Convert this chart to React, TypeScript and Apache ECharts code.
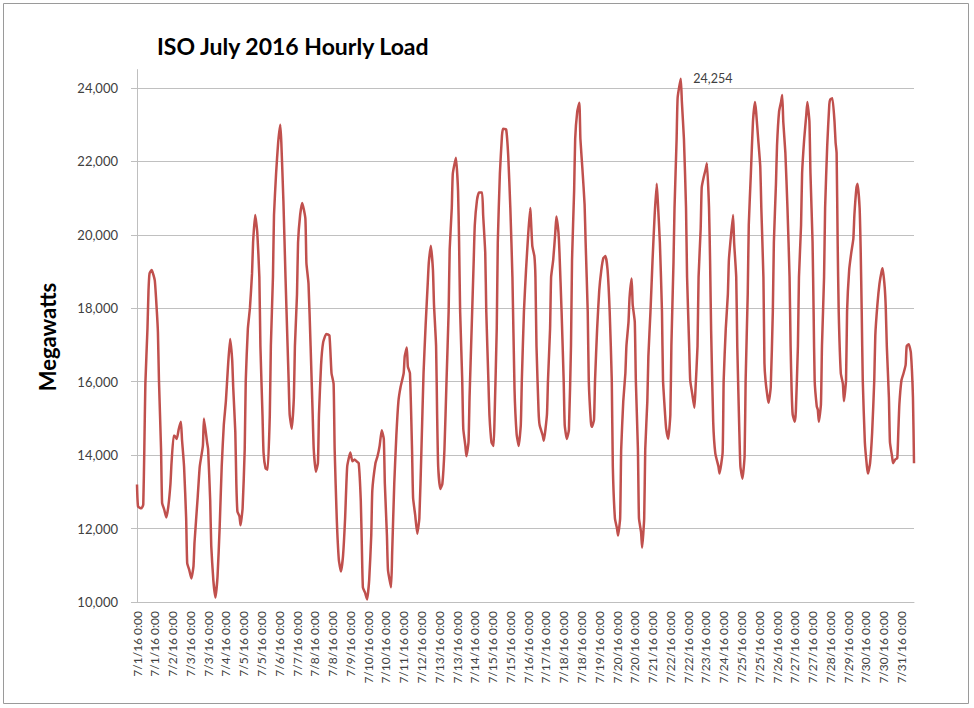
import React, { useEffect, useRef } from "react";
import * as echarts from "echarts";

// Hour index (0 = 7/1/16 0:00) and load in megawatts
const HOURS = [
  0, 1, 4, 5, 6, 7, 8, 10, 11, 12, 14, 17, 19, 20, 21, 23,
  24, 26, 28, 30, 32, 33, 35, 36, 38, 40, 42, 43, 45, 47,
  48, 50, 52, 54, 55, 58, 60, 63, 64, 67, 68, 70, 71,
  73, 75, 77, 79, 81, 83, 85, 87, 89, 91, 92, 94, 95,
  96, 98, 99, 101, 103, 104, 106, 108, 110, 111, 113, 115, 117, 118, 120, 121, 123,
  125, 127, 128, 130, 131, 133, 135, 137, 138, 140, 142, 144, 145, 146,
  148, 150, 151, 153, 154, 156, 158, 161, 162, 164, 166, 168, 169, 171,
  173, 174, 176, 178, 181, 184, 186, 188, 189, 191, 193,
  195, 197, 199, 201, 204, 206, 208, 210, 212, 214, 215, 216, 218,
  220, 222, 224, 225, 228, 230, 232, 234, 236, 237, 239, 240,
  243, 244, 246, 248, 250, 252, 255, 256, 258, 259, 261, 263, 264,
  266, 268, 270, 272, 274, 276, 278, 279, 281, 283, 284, 286, 287, 288,
  290, 292, 294, 296, 298, 299, 301, 302, 305, 307, 308, 309, 311, 312,
  314, 315, 317, 318, 320, 322, 323, 325, 327, 330, 331, 333, 334, 336, 337,
  339, 341, 342, 344, 345, 347, 349, 350, 353, 355, 357, 359, 361, 363,
  365, 367, 368, 370, 372, 374, 376, 378, 380, 381, 382, 384, 385, 388,
  389, 392, 393, 395, 396, 398, 400, 401, 403, 404, 406, 408, 409, 411,
  413, 415, 416, 418, 419, 421, 423, 424, 426, 428, 429, 431, 432, 434,
  435, 437, 438, 440, 442, 444, 446, 448, 450, 452, 454, 455, 457, 459,
  460, 462, 463, 465, 467, 468, 470, 471, 473, 474, 476, 477, 479, 480, 482,
  483, 485, 486, 488, 489, 491, 493, 495, 497, 498, 500, 502, 503, 505,
  506, 508, 510, 511, 513, 514, 516, 517, 520, 521, 523, 525, 526, 528, 529,
  531, 533, 534, 536, 537, 539, 540, 542, 544, 545, 547, 548, 549, 551, 553,
  556, 557, 560, 561, 563, 565, 566, 568, 570, 571, 573, 574, 576, 577,
  579, 581, 582, 584, 585, 587, 589, 591, 592, 594, 596, 597, 599, 600, 601,
  603, 604, 606, 608, 609, 611, 612, 614, 616, 617, 618, 620, 622, 624, 625,
  626, 627, 629, 630, 632, 633, 635, 636, 638, 640, 641, 643, 644, 646, 647, 648,
  650, 651, 652, 654, 655, 657, 658, 660, 662, 663, 665, 667, 668, 669, 670, 671,
  673, 675, 676, 678, 679, 681, 683, 685, 686, 688, 689, 691, 692, 693, 694,
  696, 698, 699, 701, 703, 705, 706, 708, 710, 712, 713, 715, 716, 717, 719,
  720, 722, 723, 725, 727, 728, 729, 731, 733, 735, 736, 738, 740, 742, 743,
];

const LOAD = [
  13200, 12600, 12550, 12580, 12660, 14160, 15940, 17440, 18480, 18950, 19040, 18760, 17900, 17350, 16040, 14160,
  12700, 12520, 12300, 12610, 13220, 13780, 14530, 14530, 14440, 14720, 14910, 14440, 13690, 12280,
  11060, 10870, 10640, 10970, 11620, 12840, 13690, 14250, 15000, 14350, 14160, 12750, 11530,
  10590, 10120, 10690, 12000, 13690, 14820, 15470, 16410, 17160, 16600, 15850, 14630, 13220,
  12470, 12330, 12090, 12560, 14160, 16040, 17440, 18010, 18950, 19790, 20540, 20070, 18850, 16970, 15100, 14070, 13640,
  13600, 15100, 16970, 18850, 20540, 21670, 22520, 23000, 22520, 20920, 18850, 16970, 16040, 15100,
  14720, 15570, 16970, 18380, 19790, 20540, 20870, 20450, 19230, 18670, 16970, 15100, 14160, 13550,
  13780, 15100, 16450, 17070, 17300, 17260, 16230, 15940, 14160, 12280, 11150,
  10830, 11250, 12280, 13690, 14070, 13830, 13880, 13830, 13780, 12750, 11530, 10400, 10260,
  10070, 10590, 11810, 13030, 13780, 13970, 14250, 14680, 14440, 13220, 11810, 10870,
  10400, 11340, 13220, 14530, 15470, 15850, 16230, 16690, 16930, 16410, 16230, 14160, 12840,
  12370, 11860, 12280, 14160, 16230, 17540, 18670, 19230, 19700, 19040, 18100, 16970, 15100, 13690,
  13080, 13220, 14160, 16040, 17910, 19600, 20730, 21670, 22100, 21200, 19790, 17910, 16040, 14720,
  14250, 13970, 14350, 15570, 17440, 19320, 20260, 20920, 21150, 21150, 20540, 19510, 17910, 16040, 15100,
  14350, 14250, 15100, 17440, 19790, 21670, 22700, 22890, 22870, 22140, 20730, 18850, 15800, 14580,
  14250, 14820, 16040, 17910, 19040, 19980, 20730, 19700, 19420, 18850, 16970, 15190, 14820, 14530,
  14390, 15100, 16040, 17440, 18850, 19320, 20070, 20500, 20070, 19510, 17910, 16040, 14820, 14440,
  14680, 16970, 19320, 21200, 22610, 23360, 23600, 22610, 21760, 20830, 19790, 17910, 16040, 14910,
  14770, 14960, 16040, 17440, 18480, 19040, 19370, 19420, 19040, 17910, 16040, 13690, 12280, 12000,
  11810, 12280, 14160, 15470, 16230, 16970, 17630, 18290, 18810, 18100, 17630, 16040, 14160, 12280, 11900,
  11480, 12280, 14160, 15470, 16690, 17910, 19320, 20540, 21390, 20920, 19790, 17910, 16040, 15100,
  14720, 14440, 15100, 16970, 19230, 20730, 22610, 23740, 24254, 23640, 22610, 20730, 18850, 16970, 16040,
  15660, 15290, 15760, 16970, 18850, 20160, 21290, 21580, 21810, 21950, 20730, 19300, 17400, 14900, 14050,
  13690, 13500, 14070, 16040, 17440, 18380, 19320, 19980, 20540, 19790, 18850, 16970, 14630, 13690,
  13360, 13970, 16040, 18380, 20260, 21670, 23080, 23620, 23360, 22610, 21860, 20730, 18850, 16500, 16040,
  15570, 15430, 15850, 17910, 19790, 21390, 22420, 23360, 23640, 23810, 23080, 22230, 20730, 18850, 16970,
  15750, 15100, 14910, 15190, 16970, 18850, 20260, 21670, 22610, 23270, 23620, 23080, 21670, 19790, 17910, 16040,
  15330, 15240, 14910, 15380, 16970, 18850, 20730, 22420, 23550, 23690, 23720, 23080, 22520, 22230, 19790, 17910,
  16230, 15940, 15470, 16040, 17910, 19040, 19510, 19890, 20540, 21290, 21390, 20730, 19600, 17910, 16040,
  14350, 13690, 13500, 13780, 14630, 16040, 17260, 18100, 18670, 19000, 19090, 18570, 18010, 16970, 15570,
  14350, 13970, 13780, 13880, 13920, 14630, 15380, 16040, 16230, 16460, 16970, 17020, 16790, 15570, 13780,
];

// Category-axis labels, one every 17 hours, as printed in the reference
const X_TICK_LABELS = [
  "7/1/16 0:00", "7/1/16 0:00", "7/2/16 0:00", "7/3/16 0:00", "7/3/16 0:00", "7/4/16 0:00",
  "7/5/16 0:00", "7/5/16 0:00", "7/6/16 0:00", "7/7/16 0:00", "7/8/16 0:00", "7/8/16 0:00",
  "7/9/16 0:00", "7/10/16 0:00", "7/10/16 0:00", "7/11/16 0:00", "7/12/16 0:00", "7/13/16 0:00",
  "7/13/16 0:00", "7/14/16 0:00", "7/15/16 0:00", "7/15/16 0:00", "7/16/16 0:00", "7/17/16 0:00",
  "7/18/16 0:00", "7/18/16 0:00", "7/19/16 0:00", "7/20/16 0:00", "7/20/16 0:00", "7/21/16 0:00",
  "7/22/16 0:00", "7/22/16 0:00", "7/23/16 0:00", "7/24/16 0:00", "7/25/16 0:00", "7/25/16 0:00",
  "7/26/16 0:00", "7/27/16 0:00", "7/27/16 0:00", "7/28/16 0:00", "7/29/16 0:00", "7/30/16 0:00",
  "7/30/16 0:00", "7/31/16 0:00",
];
const X_LABEL_STEP = 17;
const Y_MIN = 10000;
const Y_MAX = 24500;
const Y_STEP = 2000;

const TITLE = "ISO July 2016 Hourly Load";
const Y_NAME = "Megawatts";

export default function App() {
  const ref = useRef<HTMLDivElement>(null);

  useEffect(() => {
    if (!ref.current) return;
    const chart = echarts.init(ref.current, undefined, { renderer: "svg" });

    let peakIdx = 0;
    LOAD.forEach((v, i) => {
      if (v > LOAD[peakIdx]) peakIdx = i;
    });

    const fmt = (v: number) => Number(v).toLocaleString("en-US");

    chart.setOption({
      animation: false,
      backgroundColor: "#ffffff",
      title: {
        text: TITLE,
        left: 157,
        top: 34,
        padding: 0,
        textStyle: {
          fontFamily: "Lato",
          fontWeight: "bold",
          fontSize: 23,
          color: "#000000",
        },
      },
      grid: { left: 137, right: 60, top: 69.6, bottom: 106, containLabel: false },
      xAxis: {
        type: "value",
        min: 0,
        max: HOURS[HOURS.length - 1],
        interval: X_LABEL_STEP,
        axisLine: { show: true, lineStyle: { color: "#bfbfbf", width: 1 } },
        axisTick: { show: false },
        splitLine: { show: false },
        axisLabel: {
          rotate: 90,
          margin: 9,
          fontFamily: "Lato",
          fontSize: 12,
          color: "#404040",
          showMinLabel: true,
          showMaxLabel: false,
          formatter: (v: number) => {
            const k = Math.round(v / X_LABEL_STEP);
            return Math.abs(v - k * X_LABEL_STEP) < 0.01 && X_TICK_LABELS[k] ? X_TICK_LABELS[k] : "";
          },
        },
      },
      yAxis: {
        type: "value",
        min: Y_MIN,
        max: Y_MAX,
        interval: Y_STEP,
        axisLine: { show: true, lineStyle: { color: "#bfbfbf", width: 1 } },
        axisTick: { show: true, length: 6, inside: false, lineStyle: { color: "#bfbfbf" } },
        splitLine: {
          show: true,
          showMinLine: false,
          showMaxLine: false,
          lineStyle: { color: "#c0c0c0", width: 1 },
        },
        axisLabel: {
          margin: 19,
          fontFamily: "Lato",
          fontSize: 13,
          color: "#404040",
          showMaxLabel: false,
          formatter: (v: number) => (v % Y_STEP === 0 ? fmt(v) : ""),
        },
      },
      graphic: [
        {
          type: "rect",
          shape: { x: 3.5, y: 3.5, width: 965, height: 700 },
          style: { fill: "none", stroke: "#9a9a9a", lineWidth: 1 },
          silent: true,
        },
        {
          type: "text",
          x: 47,
          y: 337,
          rotation: Math.PI / 2,
          style: {
            text: Y_NAME,
            align: "center",
            verticalAlign: "middle",
            fontFamily: "Lato",
            fontWeight: "bold",
            fontSize: 22,
            fill: "#000000",
          },
        },
      ],
      series: [
        {
          type: "line",
          name: TITLE,
          data: HOURS.map((h, i) => [h, LOAD[i]]),
          showSymbol: false,
          smooth: 0.15,
          lineStyle: { color: "#C0504D", width: 2.5 },
          itemStyle: { color: "#C0504D" },
          markPoint: {
            symbol: "circle",
            symbolSize: 1,
            itemStyle: { color: "rgba(0,0,0,0)" },
            data: [{ coord: [HOURS[peakIdx], LOAD[peakIdx]], value: LOAD[peakIdx] }],
            label: {
              show: true,
              position: "right",
              distance: 12,
              fontFamily: "Lato",
              fontSize: 12.5,
              color: "#404040",
              formatter: (p: any) => fmt(p.value),
            },
          },
        },
      ],
    });

    return () => chart.dispose();
  }, []);

  return (
    <div
      ref={ref}
      style={{ position: "fixed", left: 0, top: 0, width: 974, height: 708, background: "#fff" }}
    />
  );
}
